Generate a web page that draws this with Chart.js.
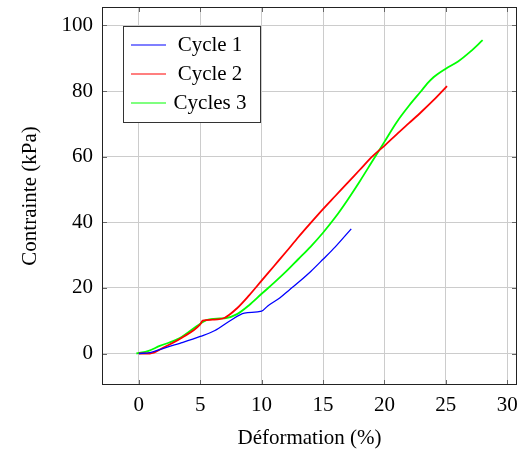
<!DOCTYPE html>
<html>
<head>
<meta charset="utf-8">
<script src="https://cdn.jsdelivr.net/npm/chart.js@4"></script>
<style>
  html, body { margin: 0; padding: 0; background: #fff; }
  #wrap { width: 528px; height: 457px; }
</style>
</head>
<body>
<div id="wrap"><canvas id="courbe" width="528" height="457"></canvas></div>
<script>
// valeurs (déformation %, contrainte kPa)
var cycle1X = [0, 0.9, 2.2, 3.5, 5, 6.2, 7.4, 8.6, 10, 10.5, 11.5, 12.3, 13.1, 14, 15, 16, 17.3];
var cycle1Y = [0, 0.3, 1.8, 3.3, 5.2, 7, 9.9, 12.3, 12.9, 14.5, 17, 19.5, 22, 25, 28.7, 32.5, 38];

var cycle2X = [0, 0.9, 2, 3.5, 5, 5.2, 6, 7, 8, 9, 10, 11, 12, 13, 14, 15, 16, 17, 18, 19, 20, 21, 22, 23, 24, 25.1];
var cycle2Y = [0, 0, 1.8, 4.8, 8.9, 10, 10.3, 10.9, 13.8, 17.8, 22.2, 26.6, 31, 35.5, 39.8, 44, 48, 52, 56, 60, 63.3, 66.8, 70.2, 73.6, 77.2, 81.5];

var cycle3X = [-0.2, 0.8, 1.7, 3.3, 5, 5.5, 6.6, 7.1, 8, 9, 10, 11, 12, 13, 14, 15, 16, 17, 18, 19, 20, 21, 22, 23, 23.5, 24, 25, 26, 27, 28];
var cycle3Y = [0, 0.8, 2.3, 4.6, 9.1, 10.2, 10.7, 10.8, 12, 14.8, 18.2, 21.5, 25, 28.8, 32.6, 36.8, 41.5, 46.8, 52.5, 58.5, 64.5, 70.5, 75.5, 80, 82.3, 84.2, 86.8, 89, 92, 95.5];

var xTicks = [0, 5, 10, 15, 20, 25, 30];
var yTicks = [0, 20, 40, 60, 80, 100];

function pts(xs, ys) {
  return xs.map(function (x, i) { return { x: x, y: ys[i] }; });
}

var police = "'Liberation Serif', 'DejaVu Serif', serif";
Chart.defaults.font.family = police;
Chart.defaults.color = '#000';

// légende dans le cadre, en haut à gauche
var legendeDedans = {
  id: 'legendeDedans',
  afterDraw: function (chart) {
    var ctx = chart.ctx, a = chart.chartArea;
    var x0 = a.left + 21, y0 = a.top + 19, w = 137, h = 96;
    ctx.save();
    ctx.fillStyle = '#fff';
    ctx.fillRect(x0, y0, w, h);
    ctx.strokeStyle = '#333';
    ctx.lineWidth = 1;
    ctx.strokeRect(x0 + 0.5, y0 + 0.5, w, h);
    ctx.font = '21px ' + police;
    ctx.textBaseline = 'middle';
    ctx.textAlign = 'center';
    chart.data.datasets.forEach(function (ds, i) {
      var yy = y0 + 19 + i * 29;
      ctx.strokeStyle = ds.borderColor;
      ctx.lineWidth = 1.2;
      ctx.beginPath();
      ctx.moveTo(x0 + 8, yy);
      ctx.lineTo(x0 + 43, yy);
      ctx.stroke();
      ctx.fillStyle = '#000';
      ctx.fillText(ds.label, x0 + 87, yy);
    });
    ctx.restore();
  }
};

// petites graduations vers l'intérieur sur les quatre côtés
var graduations = {
  id: 'graduations',
  afterDatasetsDraw: function (chart) {
    var ctx = chart.ctx, a = chart.chartArea;
    var sx = chart.scales.x, sy = chart.scales.y;
    ctx.save();
    ctx.strokeStyle = '#666';
    ctx.lineWidth = 1;
    ctx.beginPath();
    xTicks.forEach(function (v) {
      var p = Math.round(sx.getPixelForValue(v)) + 0.5;
      ctx.moveTo(p, a.bottom); ctx.lineTo(p, a.bottom - 5);
      ctx.moveTo(p, a.top); ctx.lineTo(p, a.top + 5);
    });
    yTicks.forEach(function (v) {
      var p = Math.round(sy.getPixelForValue(v)) + 0.5;
      ctx.moveTo(a.left, p); ctx.lineTo(a.left + 5, p);
      ctx.moveTo(a.right, p); ctx.lineTo(a.right - 5, p);
    });
    ctx.stroke();
    ctx.strokeStyle = '#222';
    ctx.strokeRect(a.left + 0.5, a.top + 0.5, a.right - a.left - 1, a.bottom - a.top - 1);
    ctx.restore();
  }
};

new Chart(document.getElementById('courbe'), {
  type: 'line',
  data: {
    datasets: [
      { label: 'Cycle 1', data: pts(cycle1X, cycle1Y), borderColor: 'rgb(0,0,255)', borderWidth: 1.3 },
      { label: 'Cycle 2', data: pts(cycle2X, cycle2Y), borderColor: 'rgb(255,0,0)', borderWidth: 1.8 },
      { label: 'Cycles 3', data: pts(cycle3X, cycle3Y), borderColor: 'rgb(0,255,0)', borderWidth: 1.8 }
    ]
  },
  options: {
    responsive: false,
    animation: false,
    elements: { point: { radius: 0 }, line: { cubicInterpolationMode: 'monotone', fill: false } },
    layout: { padding: { top: 7, right: 11, left: 0, bottom: 0 } },
    plugins: { legend: { display: false }, tooltip: { enabled: false } },
    scales: {
      x: {
        type: 'linear',
        min: -3, max: 30.8,
        afterFit: function (s) { s.height = 72; s.paddingLeft = 0; s.paddingRight = 0; },
        afterBuildTicks: function (s) { s.ticks = xTicks.map(function (v) { return { value: v }; }); },
        grid: { color: '#cccccc', drawTicks: false },
        border: { display: false },
        ticks: { font: { size: 21 }, padding: 8, maxRotation: 0 },
        title: { display: true, text: 'Déformation (%)', font: { size: 21 }, padding: { top: 4, bottom: 6 } }
      },
      y: {
        type: 'linear',
        min: -9.6, max: 105.6,
        afterFit: function (s) { s.width = 102; s.paddingTop = 0; s.paddingBottom = 0; },
        afterBuildTicks: function (s) { s.ticks = yTicks.map(function (v) { return { value: v }; }); },
        grid: { color: '#cccccc', drawTicks: false },
        border: { display: false },
        ticks: { font: { size: 21 }, padding: 9 },
        title: { display: true, text: 'Contrainte (kPa)', font: { size: 21 }, padding: { top: 18, bottom: 4 } }
      }
    }
  },
  plugins: [graduations, legendeDedans]
});
</script>
</body>
</html>
